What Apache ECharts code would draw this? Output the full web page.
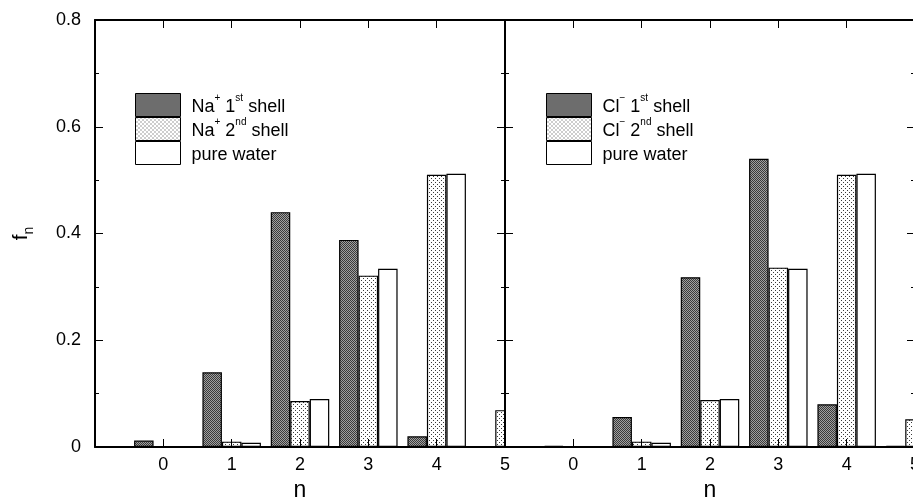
<!DOCTYPE html>
<html>
<head>
<meta charset="utf-8">
<script src="https://cdn.jsdelivr.net/npm/echarts@6/dist/echarts.min.js"></script>
<style>
  html, body { margin: 0; padding: 0; background: #fff; }
  #chart { width: 913px; height: 500px; }
</style>
</head>
<body>
<div id="chart"></div>
<script>
// n = -1 is only there so the axis starts at -1
const categories = ['-1', '0', '1', '2', '3', '4', '5'];
const naFirst   = [null, 0.012, 0.140, 0.440, 0.388, 0.020, 0];
const naSecond  = [null, 0, 0.010, 0.086, 0.321, 0.510, 0.069];
const pureWater = [null, 0, 0.008, 0.090, 0.334, 0.512, 0.060];
const clFirst   = [null, 0.002, 0.056, 0.318, 0.540, 0.080, 0.002];
const clSecond  = [null, 0, 0.010, 0.088, 0.336, 0.510, 0.052];

const naNames = ['Na+ 1st shell', 'Na+ 2nd shell', 'pure water'];
const clNames = ['Cl- 1st shell', 'Cl- 2nd shell', 'pure water'];
const legendText = {
  'Na+ 1st shell': '{t|Na}{s|+}{t| 1}{s|st}{t| shell}',
  'Na+ 2nd shell': '{t|Na}{s|+}{t| 2}{s|nd}{t| shell}',
  'Cl- 1st shell': '{t|Cl}{s|\u2212}{t| 1}{s|st}{t| shell}',
  'Cl- 2nd shell': '{t|Cl}{s|\u2212}{t| 2}{s|nd}{t| shell}',
  'pure water': '{t|pure water}'
};

const FONT = 'Liberation Sans, Arial, sans-serif';
const BAR_W = 19.5;

// fill patterns
function makePattern(size, bg, dots) {
  const c = document.createElement('canvas');
  c.width = size; c.height = size;
  const ctx = c.getContext('2d');
  ctx.fillStyle = bg;
  ctx.fillRect(0, 0, size, size);
  dots.forEach(d => {
    ctx.fillStyle = d[2];
    ctx.fillRect(d[0], d[1], 1, 1);
  });
  return { image: c, repeat: 'repeat' };
}
const darkFill = makePattern(2, '#a0a0a0', [[0, 0, '#3a3a3a'], [1, 1, '#3a3a3a']]);
const dotFill = makePattern(4, '#ffffff', [[1, 0, '#3a3a3a'], [3, 2, '#3a3a3a']]);
const whiteFill = '#ffffff';

const chart = echarts.init(document.getElementById('chart'));

const grids = [
  { left: 95, right: 408, top: 20, bottom: 53, outerBoundsMode: 'none' },
  { left: 505, right: -2, top: 20, bottom: 53, outerBoundsMode: 'none' }
];

const xAxes = [];
const yAxes = [];
[0, 1].forEach(g => {
  // bottom axis with labels
  xAxes.push({
    type: 'category', gridIndex: g, data: categories, boundaryGap: false,
    position: 'bottom', z: 10,
    name: 'n', nameLocation: 'middle', nameGap: 25,
    nameTextStyle: { fontFamily: FONT, fontSize: 23, color: '#000' },
    axisLine: { onZero: false, lineStyle: { color: '#000', width: 2 } },
    axisTick: { inside: true, length: 8, lineStyle: { color: '#000' } },
    axisLabel: {
      margin: 9, fontFamily: FONT, fontSize: 18, color: '#000',
      formatter: v => (v === '-1' ? '' : v)
    },
    splitLine: { show: false }
  });
  // top mirror axis
  xAxes.push({
    type: 'category', gridIndex: g, data: categories, boundaryGap: false,
    position: 'top', z: 10,
    axisLine: { onZero: false, lineStyle: { color: '#000', width: 2 } },
    axisTick: { inside: true, length: 8, lineStyle: { color: '#000' } },
    axisLabel: { show: false },
    splitLine: { show: false }
  });
  const yBase = {
    type: 'value', gridIndex: g, min: 0, max: 0.8, interval: 0.2, z: 10,
    axisLine: { show: true, onZero: false, lineStyle: { color: '#000', width: 2 } },
    axisTick: { show: true, inside: true, length: 8, lineStyle: { color: '#000' } },
    minorTick: { show: true, splitNumber: 2, length: 4, lineStyle: { color: '#000' } },
    splitLine: { show: false }
  };
  yAxes.push(Object.assign({}, yBase, {
    position: 'left',
    axisLabel: g === 0
      ? { margin: 14, fontFamily: FONT, fontSize: 18, color: '#000' }
      : { show: false },
    name: g === 0 ? '{f|f}{sub|n}' : '',
    nameLocation: 'middle', nameRotate: 90, nameGap: 63,
    nameTextStyle: {
      fontFamily: FONT, color: '#000',
      rich: {
        f: { fontFamily: FONT, fontSize: 21, color: '#000', verticalAlign: 'bottom', lineHeight: 24 },
        sub: { fontFamily: FONT, fontSize: 14, color: '#000', verticalAlign: 'bottom', lineHeight: 24, padding: [0, 0, -4, 0] }
      }
    }
  }));
  yAxes.push(Object.assign({}, yBase, {
    position: 'right',
    axisLabel: { show: false }
  }));
});

function barSeries(name, data, fill, xi, yi) {
  return {
    name: name, type: 'bar', data: data,
    xAxisIndex: xi, yAxisIndex: yi,
    barWidth: BAR_W, barGap: '0%', clip: true,
    itemStyle: { color: fill, borderColor: '#000', borderWidth: 1.2 },
    emphasis: { disabled: true }
  };
}

const series = [
  barSeries(naNames[0], naFirst, darkFill, 0, 0),
  barSeries(naNames[1], naSecond, dotFill, 0, 0),
  barSeries(naNames[2], pureWater, whiteFill, 0, 0),
  barSeries(clNames[0], clFirst, darkFill, 2, 2),
  barSeries(clNames[1], clSecond, dotFill, 2, 2),
  barSeries(clNames[2], pureWater, whiteFill, 2, 2)
];

function legendFor(names, left) {
  return {
    data: names, left: left, top: 93, orient: 'vertical', padding: 0,
    icon: 'rect', itemWidth: 45, itemHeight: 23, itemGap: 0,
    selectedMode: false,
    itemStyle: { borderColor: '#000', borderWidth: 1 },
    formatter: n => legendText[n],
    textStyle: {
      padding: [0, 0, 0, 6],
      rich: {
        t: { fontFamily: FONT, fontSize: 18, color: '#000', lineHeight: 23, verticalAlign: 'bottom' },
        s: { fontFamily: FONT, fontSize: 10, color: '#000', lineHeight: 23, verticalAlign: 'top' }
      }
    }
  };
}

const option = {
  animation: false,
  backgroundColor: '#fff',
  grid: grids,
  xAxis: xAxes,
  yAxis: yAxes,
  legend: [legendFor(naNames, 135), legendFor(clNames, 546)],
  series: series
};

chart.setOption(option);

// the left panel's last bars run past its right frame: mask the overflow
// (axes sit above this mask, so the shared frame and its ticks stay visible)
const xEdge = chart.convertToPixel({ xAxisIndex: 0 }, '5');
const xRightFirst = chart.convertToPixel({ xAxisIndex: 2 }, '0') - 1.5 * BAR_W;
const yTop = chart.convertToPixel({ yAxisIndex: 0 }, 0.8);
const yBottom = chart.convertToPixel({ yAxisIndex: 0 }, 0);
chart.setOption({
  graphic: [{
    type: 'rect', z: 5, silent: true,
    shape: { x: xEdge + 1, y: yTop + 1, width: xRightFirst - xEdge - 3, height: yBottom - yTop - 2 },
    style: { fill: '#fff' }
  }]
});
</script>
</body>
</html>
